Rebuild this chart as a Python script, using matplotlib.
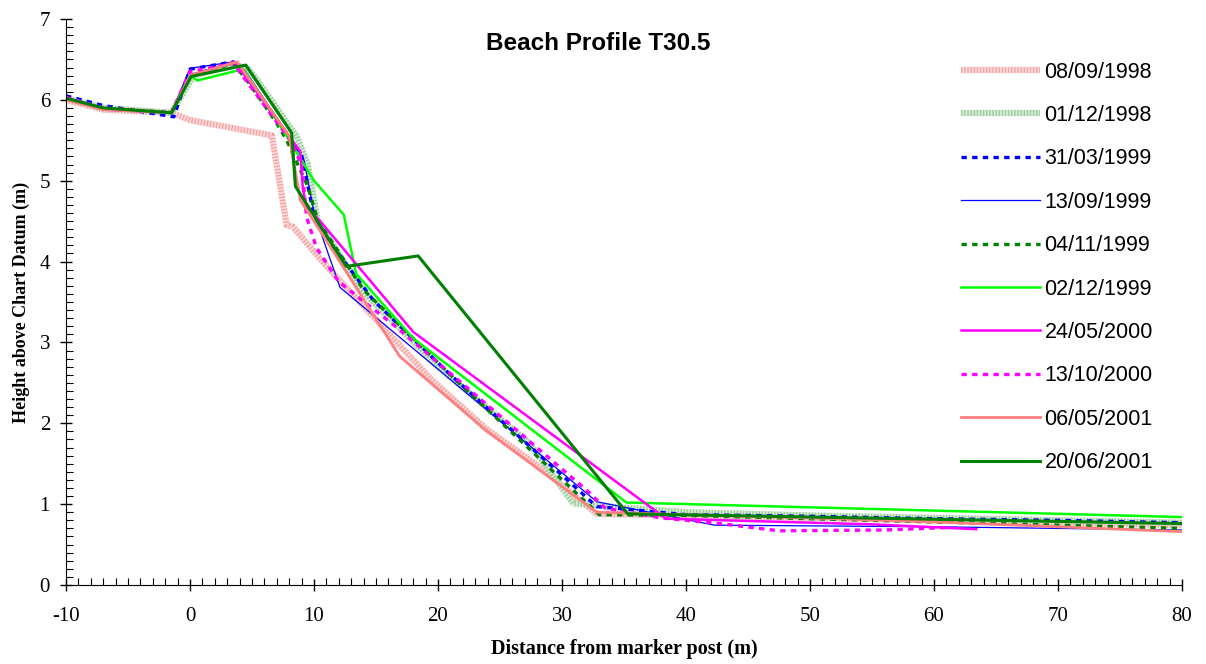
import numpy as np
import matplotlib
matplotlib.use("Agg")
import matplotlib.pyplot as plt
from matplotlib.ticker import MultipleLocator

plt.rcParams["axes.unicode_minus"] = False

# survey dates (legend labels)
dates = ["08/09/1998", "01/12/1998", "31/03/1999", "13/09/1999", "04/11/1999",
         "02/12/1999", "24/05/2000", "13/10/2000", "06/05/2001", "20/06/2001"]

# profiles: distance from marker post (m) and height above chart datum (m)
x_0898 = [-10, -7, -1.5, 0, 6.6, 7.8, 8.3, 10.8, 14, 19.4, 23.9, 28.2, 32.8, 40, 50, 60, 70, 80]
y_0898 = [6.0, 5.88, 5.84, 5.75, 5.56, 4.45, 4.43, 3.98, 3.45, 2.55, 1.93, 1.46, 0.88, 0.86, 0.83, 0.8, 0.77, 0.74]

x_0198 = [-10, -7, -1.5, 0.3, 3.5, 4.6, 5.4, 8.6, 9.5, 10.3, 14, 20, 27.4, 30.9, 33, 40, 50, 60, 70, 80]
y_0198 = [6.02, 5.9, 5.84, 6.3, 6.43, 6.4, 6.25, 5.55, 5.2, 4.5, 3.62, 2.7, 1.75, 1.01, 0.98, 0.9, 0.86, 0.83, 0.8, 0.77]

x_3199 = [-10, -7, -1.3, 0, 3.5, 4.6, 6.5, 9.0, 9.9, 10.5, 14.8, 21, 32.8, 40, 50, 60, 70, 80]
y_3199 = [6.05, 5.93, 5.79, 6.38, 6.47, 6.25, 5.87, 5.32, 4.64, 4.4, 3.52, 2.6, 0.97, 0.87, 0.85, 0.82, 0.8, 0.77]

x_1399 = [-10, -7, -1.5, 0, 3.5, 4.5, 8, 9.2, 10, 12.1, 32.8, 42.3, 60, 80]
y_1399 = [6.03, 5.9, 5.84, 6.39, 6.47, 6.35, 5.55, 5.25, 4.6, 3.68, 1.03, 0.74, 0.72, 0.68]

x_0499 = [-10, -7, -1.5, 0, 3.5, 4.8, 7.0, 7.8, 9.5, 10.3, 14, 21, 33, 40, 50, 60, 70, 80]
y_0499 = [6.02, 5.9, 5.84, 6.3, 6.45, 6.2, 5.71, 5.5, 4.93, 4.51, 3.65, 2.6, 0.87, 0.86, 0.82, 0.78, 0.74, 0.7]

x_0299 = [-10, -7, -1.5, 0, 0.6, 4.3, 7.8, 10, 12.4, 13.4, 18, 35.2, 80]
y_0299 = [6.02, 5.9, 5.84, 6.3, 6.24, 6.38, 5.55, 5.0, 4.58, 3.85, 3.05, 1.02, 0.84]

x_2400 = [-10, -7, -1.5, 0, 3.6, 8, 8.9, 9.1, 9.4, 10.5, 18, 38.4, 55, 63.4]
y_2400 = [6.03, 5.88, 5.84, 6.3, 6.47, 5.55, 5.36, 4.9, 4.68, 4.5, 3.13, 0.82, 0.75, 0.69]

x_1300 = [-10, -7, -1.5, 0, 3.5, 8, 9.0, 9.4, 10.2, 12, 16.8, 32, 33.5, 38, 42.7, 47.5, 56, 61]
y_1300 = [6.03, 5.9, 5.84, 6.35, 6.45, 5.52, 5.2, 4.55, 4.17, 3.75, 3.17, 1.17, 0.95, 0.83, 0.76, 0.67, 0.68, 0.71]

x_0601 = [-10, -7, -1.5, 0, 3.8, 8, 8.9, 11.5, 16.9, 23.8, 32.8, 40, 50, 60, 70, 80]
y_0601 = [6.0, 5.88, 5.84, 6.3, 6.47, 5.55, 4.76, 4.14, 2.83, 1.92, 0.9, 0.87, 0.83, 0.78, 0.72, 0.66]

x_2001 = [-10, -7, -1.5, 0.1, 4.5, 8.2, 8.5, 12.6, 18.4, 35.3, 80]
y_2001 = [6.02, 5.9, 5.84, 6.29, 6.43, 5.59, 4.93, 3.94, 4.07, 0.88, 0.76]

fig = plt.figure(figsize=(12.06, 6.64), dpi=100)
ax = fig.add_axes([66 / 1206, 1 - 585 / 664, (1182 - 66) / 1206, (585 - 19) / 664])

# hatched looking thick lines: tiny dashes with a light gap colour
hatch = dict(lw=4.5, dashes=(0.25, 0.25), dash_capstyle="butt")
ax.plot(x_0898, y_0898, color="#f4a4a4", gapcolor="#fcdada", label=dates[0], **hatch)
ax.plot(x_0198, y_0198, color="#9ccc9c", gapcolor="#d6eed6", label=dates[1], **hatch)
ax.plot(x_3199, y_3199, color="#0000ff", lw=2.4, ls=(0, (1.6, 1.6)), label=dates[2])
ax.plot(x_1399, y_1399, color="#0000ff", lw=0.9, label=dates[3])
ax.plot(x_0499, y_0499, color="#008000", lw=2.4, ls=(0, (1.6, 1.6)), label=dates[4])
ax.plot(x_0299, y_0299, color="#00ff00", lw=1.8, label=dates[5])
ax.plot(x_2400, y_2400, color="#ff00ff", lw=1.8, label=dates[6])
ax.plot(x_1300, y_1300, color="#ff00ff", lw=2.4, ls=(0, (1.6, 1.6)), label=dates[7])
ax.plot(x_0601, y_0601, color="#ff7f7f", lw=2.0, label=dates[8])
ax.plot(x_2001, y_2001, color="#008000", lw=2.2, label=dates[9])

ax.set_xlim(-10, 80)
ax.set_ylim(0, 7)
ax.spines["top"].set_visible(False)
ax.spines["right"].set_visible(False)
ax.xaxis.set_major_locator(MultipleLocator(10))
ax.xaxis.set_minor_locator(MultipleLocator(1))
ax.yaxis.set_major_locator(MultipleLocator(1))
ax.yaxis.set_minor_locator(MultipleLocator(0.1))
ax.tick_params(which="major", direction="inout", length=9, width=1,
               labelsize=15, labelfontfamily="Liberation Serif")
ax.tick_params(axis="x", which="major", pad=11)
ax.tick_params(axis="y", which="major", pad=7)
ax.tick_params(which="minor", direction="in", length=5, width=0.8)

ax.set_xlabel("Distance from marker post (m)", fontfamily="Liberation Serif",
              fontweight="bold", fontsize=14.5, labelpad=10)
ax.set_ylabel("Height above Chart Datum (m)", fontfamily="Liberation Serif",
              fontweight="bold", fontsize=13, labelpad=7)

fig.text(598 / 1206, 1 - 43 / 664, "Beach Profile T30.5", ha="center", va="center",
         fontfamily="Liberation Sans", fontweight="bold", fontsize=17.5)

leg = ax.legend(loc="upper left", bbox_to_anchor=(952 / 1206, 1 - 53 / 664),
                bbox_transform=fig.transFigure, frameon=False,
                prop={"family": "Liberation Sans", "size": 15.5},
                handlelength=3.7, handletextpad=0.2, labelspacing=1.04, borderaxespad=0)

fig.savefig("out.png", dpi=100)
